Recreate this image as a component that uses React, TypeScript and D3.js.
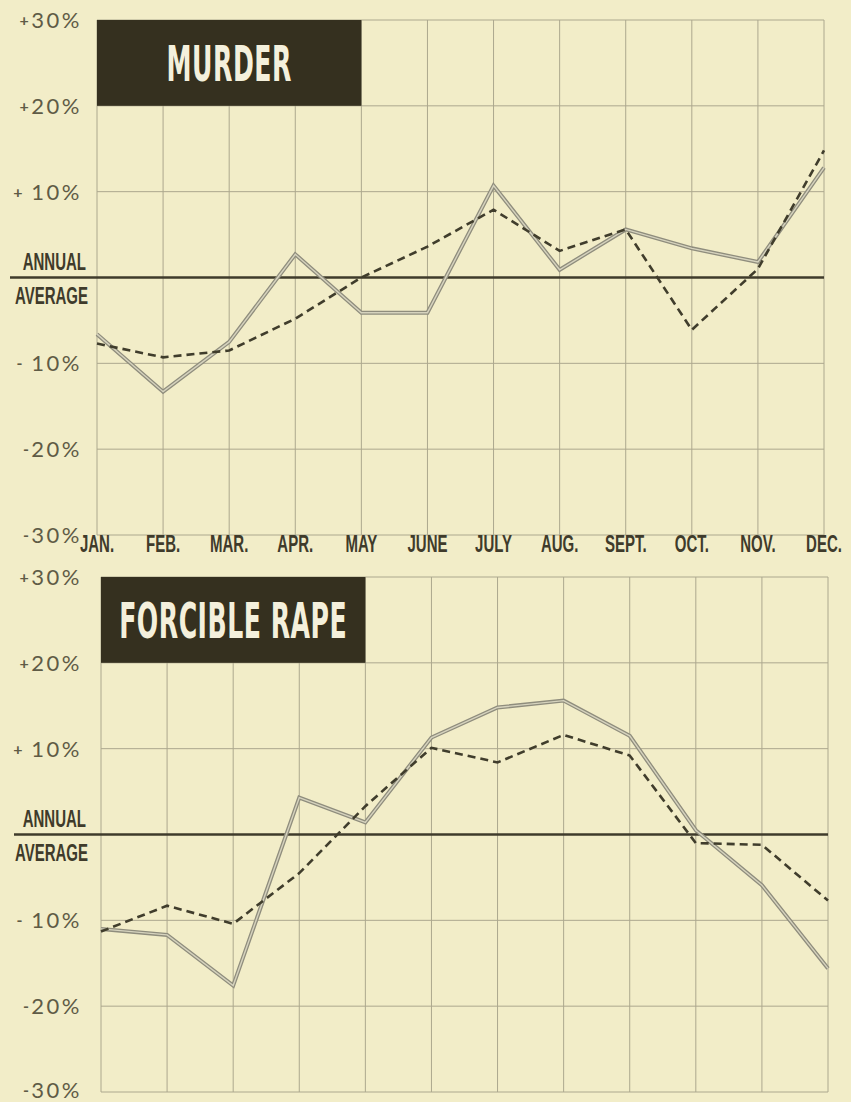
import React from 'react';
import * as d3 from 'd3';

// months along the bottom
const MONTHS = ['JAN.', 'FEB.', 'MAR.', 'APR.', 'MAY', 'JUNE', 'JULY', 'AUG.', 'SEPT.', 'OCT.', 'NOV.', 'DEC.'];

// y ticks (percent from annual average) and their printed labels
const Y_TICKS = [30, 20, 10, 0, -10, -20, -30];
const Y_SIGNS = ['+', '+', '+ ', '', '- ', '-', '-'];
const Y_NUMS = ['30%', '20%', '10%', '', '10%', '20%', '30%'];

// murder: solid (gray double) line and dashed line
const murderSolid = [-6.6, -13.3, -7.5, 2.7, -4.1, -4.1, 10.7, 0.9, 5.6, 3.4, 1.8, 12.8];
const murderDashed = [-7.7, -9.3, -8.5, -4.8, 0.0, 3.6, 7.9, 3.1, 5.6, -6.1, 1.0, 14.8];

// forcible rape
const rapeSolid = [-11.0, -11.7, -17.6, 4.3, 1.4, 11.3, 14.8, 15.6, 11.5, 0.5, -5.9, -15.6];
const rapeDashed = [-11.3, -8.3, -10.4, -4.5, 3.3, 10.1, 8.4, 11.6, 9.2, -1.0, -1.2, -7.7];

const BG = '#f2edc8';
const GRID = '#aca88e';
const INK = '#3f3b2b';
const LABEL = '#5f5b46';

const W = 851;
const H = 1102;

type PanelProps = {
  title: string;
  solid: number[];
  dashed: number[];
  left: number;
  right: number;
  top: number;
  bottom: number;
  zeroFrom: number;
  months: boolean;
};

const Panel = ({ title, solid, dashed, left, right, top, bottom, zeroFrom, months }: PanelProps) => {
  const x = d3.scalePoint<string>().domain(MONTHS).range([left, right]);
  const y = d3.scaleLinear().domain([-30, 30]).range([bottom, top]);

  const line = d3
    .line<number>()
    .x((_, i) => x(MONTHS[i]) as number)
    .y((d) => y(d));

  const boxRight = x(MONTHS[4]) as number;

  return (
    <g>
      {/* vertical grid */}
      {MONTHS.map((m) => (
        <line key={m} x1={x(m)} x2={x(m)} y1={top} y2={bottom} stroke={GRID} strokeWidth={1} />
      ))}
      {/* horizontal grid */}
      {Y_TICKS.filter((t) => t !== 0).map((t) => (
        <line key={t} x1={left} x2={right} y1={y(t)} y2={y(t)} stroke={GRID} strokeWidth={1} />
      ))}

      {/* title box */}
      <rect x={left} y={y(30)} width={boxRight - left} height={y(20) - y(30)} fill="#35301f" />
      <text
        transform={`translate(${(left + boxRight) / 2},${(y(30) + y(20)) / 2 + 18}) scale(1,1.8)`}
        textAnchor="middle"
        fill="#f4f0dc"
        fontFamily="'Liberation Sans Narrow', 'DejaVu Sans Condensed', sans-serif"
        fontWeight="bold"
        fontSize={28}
        letterSpacing={0.5}
      >
        {title}
      </text>

      {/* annual average line */}
      <line x1={zeroFrom} x2={right} y1={y(0)} y2={y(0)} stroke={INK} strokeWidth={2.5} />
      <text
        transform={`translate(86,${y(0) - 8}) scale(1,1.6)`}
        textAnchor="end"
        fill={INK}
        fontFamily="'Liberation Sans Narrow', sans-serif"
        fontWeight="bold"
        fontSize={15}
      >
        ANNUAL
      </text>
      <text
        transform={`translate(88,${y(0) + 26}) scale(1,1.6)`}
        textAnchor="end"
        fill={INK}
        fontFamily="'Liberation Sans Narrow', sans-serif"
        fontWeight="bold"
        fontSize={15}
      >
        AVERAGE
      </text>

      {/* y labels */}
      {Y_TICKS.map((t, i) =>
        t === 0 ? null : (
          <text
            key={t}
            x={82}
            y={Math.min(y(t) + 8, H - 4)}
            textAnchor="end"
            fill={LABEL}
            fontFamily="Lato, 'DejaVu Sans', sans-serif"
            fontSize={22}
            letterSpacing={2.5}
          >
            <tspan fontSize={16} fontWeight="bold" dy={-2}>{Y_SIGNS[i]}</tspan>
            <tspan dy={2}>{Y_NUMS[i]}</tspan>
          </text>
        )
      )}

      {/* series */}
      <path d={line(solid) ?? ''} fill="none" stroke="#8f8d7d" strokeWidth={4} strokeLinejoin="miter" />
      <path d={line(solid) ?? ''} fill="none" stroke="#d6d3be" strokeWidth={1.4} strokeLinejoin="miter" />
      <path d={line(dashed) ?? ''} fill="none" stroke="#403d2c" strokeWidth={2.6} strokeDasharray="8 5" />

      {/* month labels */}
      {months &&
        MONTHS.map((m) => (
          <text
            key={m}
            transform={`translate(${x(m) as number},${bottom + 17}) scale(1,1.6)`}
            textAnchor="middle"
            fill={INK}
            fontFamily="'Liberation Sans Narrow', sans-serif"
            fontWeight="bold"
            fontSize={15}
          >
            {m}
          </text>
        ))}
    </g>
  );
};

const App = () => {
  return (
    <div style={{ position: 'absolute', left: 0, top: 0, width: W, height: H, background: BG }}>
      <svg width={W} height={H} style={{ display: 'block' }}>
        <rect width={W} height={H} fill={BG} />
        <Panel
          title="MURDER"
          solid={murderSolid}
          dashed={murderDashed}
          left={97}
          right={824}
          top={20}
          bottom={535}
          zeroFrom={10}
          months={true}
        />
        <Panel
          title="FORCIBLE RAPE"
          solid={rapeSolid}
          dashed={rapeDashed}
          left={101}
          right={828}
          top={577}
          bottom={1092}
          zeroFrom={14}
          months={false}
        />
      </svg>
    </div>
  );
};

export default App;
